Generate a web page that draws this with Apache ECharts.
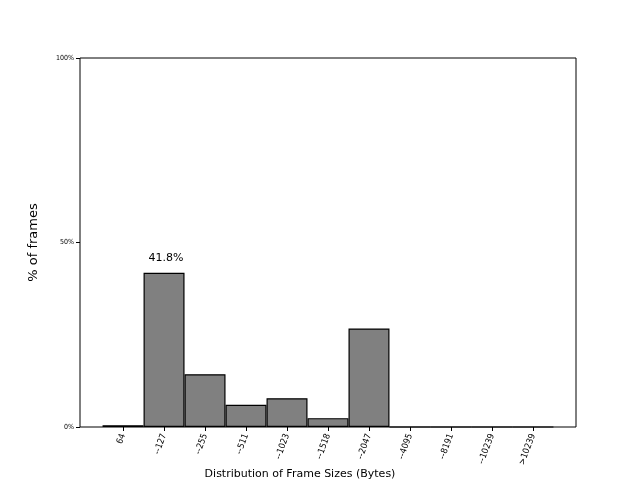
<!DOCTYPE html>
<html>
<head>
<meta charset="utf-8">
<script src="https://cdn.jsdelivr.net/npm/echarts@6/dist/echarts.min.js"></script>
<style>
  html, body { margin: 0; padding: 0; background: #fff; }
  #chart { width: 640px; height: 480px; }
</style>
</head>
<body>
<div id="chart"></div>
<script>
// frame size buckets and share of frames (%)
var categories = ['64', '--127', '--255', '--511', '--1023', '--1518', '--2047', '--4095', '--8191', '--10239', '>10239'];
var percents = [0.5, 41.8, 14.3, 6.0, 7.8, 2.4, 26.7, 0, 0, 0, 0];
var yTicks = [0, 50, 100];

(function () {
  var maxVal = Math.max.apply(null, percents);
  var tickFont = "'DejaVu Sans Condensed', 'DejaVu Sans', sans-serif";

  var seriesData = percents.map(function (v, i) {
    var item = { value: [i, v] };
    if (v === maxVal) {
      item.label = {
        show: true,
        position: 'top',
        distance: 9,
        offset: [2, 0],
        formatter: v.toFixed(1) + '%',
        fontSize: 11,
        color: '#000',
        fontFamily: 'DejaVu Sans'
      };
    }
    return item;
  });

  var option = {
    animation: false,
    grid: {
      left: 80,
      right: 64,
      top: 58,
      bottom: 53,
      outerBoundsMode: 'none',
      containLabel: false,
      show: true,
      borderColor: '#000',
      borderWidth: 1
    },
    xAxis: {
      type: 'value',
      min: -1.05,
      max: 11.05,
      name: 'Distribution of Frame Sizes (Bytes)',
      nameLocation: 'middle',
      nameGap: 42,
      nameMoveOverlap: false,
      nameTextStyle: {
        fontSize: 11,
        color: '#000',
        fontFamily: 'DejaVu Sans',
        padding: [0, 56, 0, 0]
      },
      splitLine: { show: false },
      axisLine: { show: false, onZero: false },
      axisTick: {
        show: true,
        customValues: categories.map(function (c, i) { return i; }),
        length: 4,
        lineStyle: { color: '#000' }
      },
      axisLabel: {
        customValues: categories.map(function (c, i) { return i; }),
        formatter: function (v) { return categories[Math.round(v)]; },
        rotate: 70,
        fontSize: 9,
        color: '#000',
        fontFamily: tickFont,
        margin: 7
      }
    },
    yAxis: {
      type: 'value',
      min: 0,
      max: 100,
      name: '% of frames',
      nameLocation: 'middle',
      nameGap: 40,
      nameMoveOverlap: false,
      nameTextStyle: { fontSize: 13, color: '#000', fontFamily: 'DejaVu Sans' },
      splitLine: { show: false },
      axisLine: { show: false, onZero: false },
      axisTick: {
        show: true,
        customValues: yTicks,
        length: 4,
        lineStyle: { color: '#000' }
      },
      axisLabel: {
        customValues: yTicks,
        formatter: '{value}%',
        fontSize: 7,
        color: '#000',
        fontFamily: tickFont,
        margin: 6
      }
    },
    series: [{
      type: 'bar',
      data: seriesData,
      barWidth: '100%',
      itemStyle: {
        color: '#808080',
        borderColor: '#000',
        borderWidth: 1.2
      }
    }]
  };

  var chart = echarts.init(document.getElementById('chart'));
  chart.setOption(option);
})();
</script>
</body>
</html>
